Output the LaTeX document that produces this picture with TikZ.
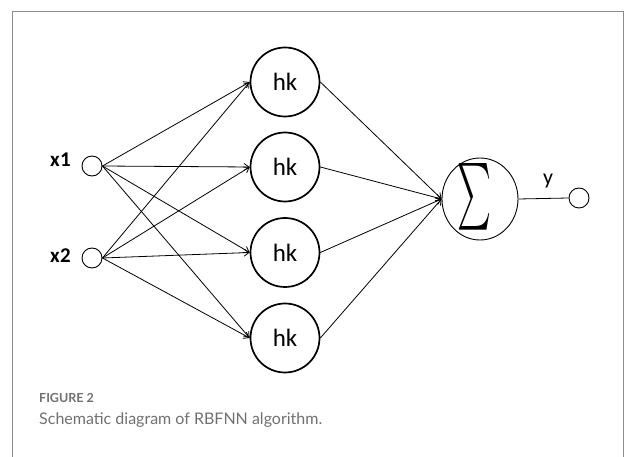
\documentclass[tikz,border=0pt]{standalone}
\usepackage{fontspec}
\usepackage{graphicx}
\usetikzlibrary{arrows.meta,shapes.geometric}
\setmainfont{Carlito}
\newfontfamily\capfont{Lato}
\definecolor{framegray}{HTML}{8C8C8C}
\definecolor{capgray}{HTML}{707070}
\tikzset{
  inputnode/.style={circle,draw,line width=0.9pt,minimum size=20pt,inner sep=0pt},
  hidnode/.style={circle,draw,line width=1.7pt,minimum size=69pt,inner sep=0pt,
    font=\fontsize{25}{25}\selectfont},
  sumnode/.style={ellipse,draw,line width=0.9pt,minimum width=76pt,minimum height=82pt,inner sep=0pt},
  varlabel/.style={font=\fontsize{21}{21}\selectfont\bfseries,inner sep=0pt},
  outlabel/.style={font=\fontsize{22}{22}\selectfont,inner sep=0pt},
  link/.style={line width=0.8pt,-{Straight Barb[length=5pt,width=7pt]}},
  plainlink/.style={line width=0.8pt},
}
\begin{document}
\begin{tikzpicture}[x=1pt,y=-1pt]
\useasboundingbox (0,0) rectangle (625,457);
% outer frame, open at the bottom
\draw[framegray,line width=1pt] (12.5,457) -- (12.5,11.5) -- (623.5,11.5) -- (623.5,457);

% input layer
\node[inputnode] (x1) at (92,166) {};
\node[inputnode] (x2) at (92,258) {};
\node[varlabel] (lx1) at (60.5,160) {x\kern0.5pt1};
\node[varlabel] (lx2) at (60.5,256) {x\kern0.5pt2};

% hidden layer
\node[hidnode] (h1) at (285,82) {hk};
\node[hidnode] (h2) at (285,167) {hk};
\node[hidnode] (h3) at (285,252.5) {hk};
\node[hidnode] (h4) at (285,338) {hk};

% summation and output
\node[sumnode] (s) at (480,199) {};
\node (sg) at (474,197) {\resizebox{34pt}{50pt}{$\sum$}};
\node[inputnode] (y) at (579,198) {};
\node[outlabel] (ly) at (548,181) {y};

% connections
\foreach \i in {1,2}{
  \foreach \j in {1,2,3,4}{
    \draw[link] (x\i.east) -- (h\j.west);
  }
}
\foreach \j in {1,2,3,4}{
  \draw[link] (h\j.east) -- (s.west);
}
\draw[plainlink] (s.east) -- (y.west);

% caption
\node[anchor=base west,inner sep=0pt,text=capgray,font=\capfont\fontsize{12.5}{12.5}\selectfont\bfseries] (fig) at (39,403) {FIGURE 2};
\node[anchor=base west,inner sep=0pt,text=capgray,font=\capfont\fontsize{16}{16}\selectfont] (cap) at (39,425) {Schematic diagram of RBFNN algorithm.};
\end{tikzpicture}
\end{document}
